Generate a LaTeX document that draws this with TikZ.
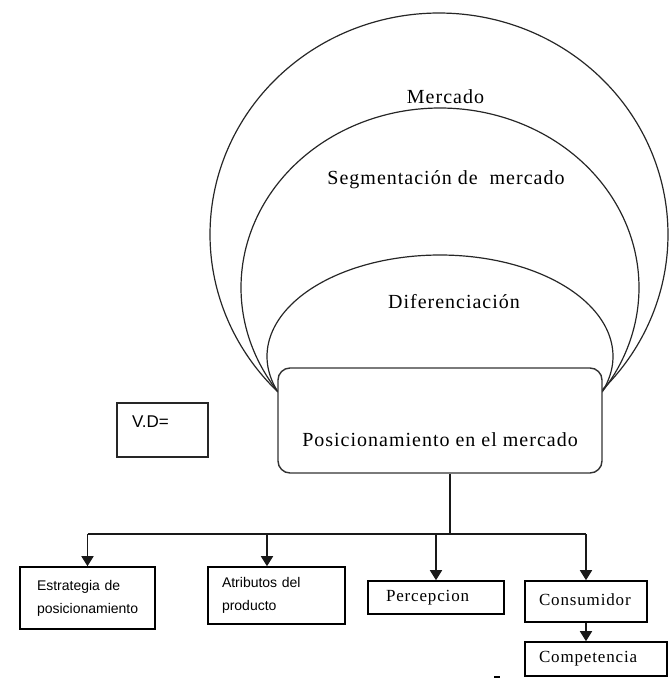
\documentclass[tikz,border=0pt]{standalone}
\usepackage{fontspec}
\setmainfont{Liberation Serif}
\newfontfamily\labelserif[LetterSpace=5]{Liberation Serif}
\newfontfamily\labelsans{Liberation Sans}
\usetikzlibrary{arrows.meta}

\begin{document}
\begin{tikzpicture}[x=1pt,y=-1pt,
  rim/.style={line width=1.2pt, draw=black!85},
  bigtext/.style={font=\labelserif\fontsize{20}{24}\selectfont, inner sep=0pt},
  boxserif/.style={font=\labelserif\fontsize{17}{20}\selectfont},
  boxsans/.style={font=\labelsans\fontsize{14}{23}\selectfont},
  mainbox/.style={draw=black!80, line width=1.4pt, rounded corners=12pt,
    minimum width=324pt, minimum height=105pt, inner sep=0pt},
  leafbox/.style={draw=black, line width=1.6pt, inner sep=0pt, align=left},
  wire/.style={line width=1.7pt, draw=black!90},
  feed/.style={wire, -{Triangle[width=12pt,length=10pt]}}
]
\useasboundingbox (0,0) rectangle (669,678);

% nested half-ellipses resting on the central box
\draw[rim] plot[domain=134.8:404.8, samples=160, smooth]
  ({439+229*cos(\x)}, {234.5+221.5*sin(\x)});
\draw[rim] plot[domain=144.5:395.5, samples=160, smooth]
  ({440+199*cos(\x)}, {287.6+179.6*sin(\x)});
\draw[rim] plot[domain=159.4:380.6, samples=160, smooth]
  ({440+173*cos(\x)}, {356.4+101.4*sin(\x)});

\node[bigtext] (mercado) at (445.5,97) {Mercado};
\node[bigtext] (segmento) at (446,180) {Segmentación de\ \ mercado};
\node[bigtext] (difer) at (454,302) {Diferenciación};

% central box
\node[mainbox, fill=white] (pos) at (440,420.5) {};
\node[bigtext] (postext) at (440,440) {Posicionamiento en el mercado};

% V.D box
\node[draw=black!85, line width=1.4pt, minimum width=91pt, minimum height=54pt, inner sep=0pt] (vd) at (162.5,430) {};
\node[font=\labelsans\fontsize{17}{20}\selectfont, anchor=west, inner sep=0pt] (vdtext) at (132,422) {V.D=};

% lower boxes
\node[leafbox, boxsans, minimum width=135pt, minimum height=62pt, text width=101pt] (b1) at (87.5,598) {Estrategia de\\posicionamiento};
\node[leafbox, boxsans, minimum width=137pt, minimum height=57pt, text width=109pt] (b2) at (276.5,595.5) {Atributos del\\producto};
\node[leafbox, boxserif, minimum width=136pt, minimum height=33pt, text width=100pt] (b3) at (436,597.5) {\raisebox{2pt}{Percepcion}};
\node[leafbox, boxserif, minimum width=122pt, minimum height=41pt, text width=94pt] (b4) at (586,601.5) {\raisebox{4pt}{Consumidor}};
\node[leafbox, boxserif, minimum width=142pt, minimum height=34pt, text width=114pt] (b5) at (596,659) {\raisebox{2pt}{Competencia}};

% connectors
\coordinate (bus) at (450,534);
\draw[wire] ([xshift=10pt]pos.south) -- (bus);
\draw[wire] (b1.north |- bus) -- (b4.north |- bus);
\draw[feed] (b1.north |- bus) -- (b1.north);
\draw[feed] ([xshift=-9.5pt]b2.north |- bus) -- ([xshift=-9.5pt]b2.north);
\draw[feed] (b3.north |- bus) -- (b3.north);
\draw[feed] (b4.north |- bus) -- (b4.north);
\draw[feed] (b4.south) -- (b4.south |- b5.north);

% small mark under the last box
\coordinate (tickL) at (494,676.5);
\coordinate (tickR) at (500,676.5);
\draw[line width=2pt] (tickL) -- (tickR);
\end{tikzpicture}
\end{document}
